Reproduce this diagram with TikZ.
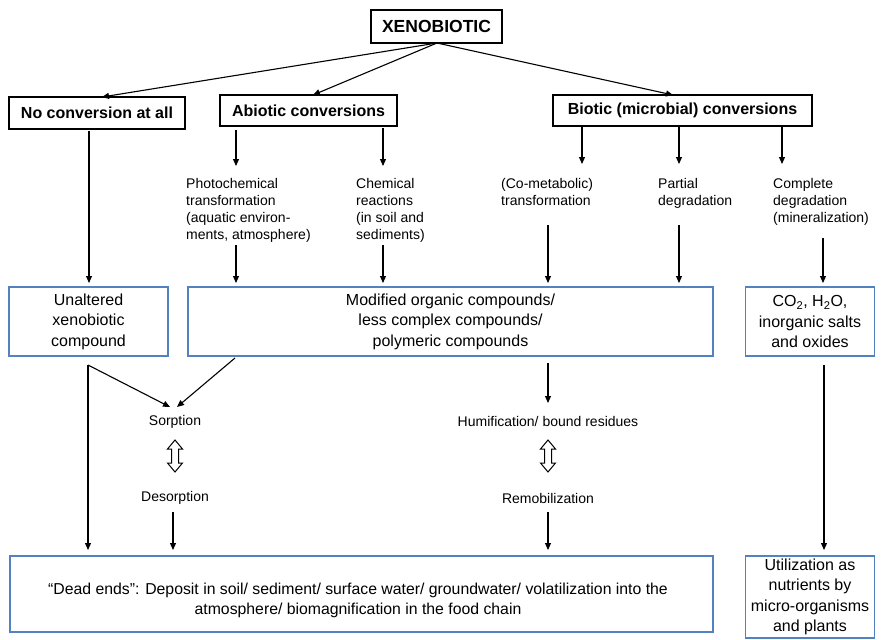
\documentclass[tikz,border=0pt]{standalone}
\usepackage{fontspec}
\setmainfont{Liberation Sans}
\usetikzlibrary{arrows.meta}
\definecolor{boxblue}{RGB}{84,130,190}
\begin{document}
\begin{tikzpicture}[x=1pt,y=-1pt,
  blackbox/.style={draw=black,line width=1.5pt,inner sep=0pt,font=\bfseries\fontsize{16}{19}\selectfont},
  bluebox/.style={draw=boxblue,line width=1.3pt,inner sep=0pt,align=center,font=\fontsize{16}{20.5}\selectfont},
  lbl/.style={inner sep=0pt,align=left,anchor=north west,font=\fontsize{14}{17}\selectfont},
  clbl/.style={inner sep=0pt,font=\fontsize{14}{17}\selectfont},
  arr/.style={-{Triangle[length=7pt,width=6pt]},line width=1.1pt},
  dblarr/.pic={\draw[fill=white,line width=1pt,line join=miter]
     (0,-16) -- (7.5,-7) -- (3.5,-7) -- (3.5,7) -- (7.5,7) -- (0,16) -- (-7.5,7) -- (-3.5,7) -- (-3.5,-7) -- (-7.5,-7) -- cycle;}
]
\useasboundingbox (0,0) rectangle (884,640);
\fill[white] (0,0) rectangle (884,640);

% top boxes
\node[blackbox,minimum width=131pt,minimum height=33pt,font=\bfseries\fontsize{17.5}{20}\selectfont] (x) at (436.5,26.5) {XENOBIOTIC};
\node[blackbox,minimum width=176pt,minimum height=32pt] (nc) at (97,113) {No conversion at all};
\node[blackbox,minimum width=177pt,minimum height=31pt] (ab) at (308.5,110.5) {Abiotic conversions};
\node[blackbox,minimum width=259pt,minimum height=31pt] (bi) at (682.5,110.5) {Biotic (microbial) conversions};

\coordinate (xs) at (437,43);
\draw[arr] (xs) -- (102,97);
\draw[arr] (xs) -- (313,95);
\draw[arr] (xs) -- (673,95);

% labels
\node[lbl] (ph) at (186,178) {Photochemical\\transformation\\(aquatic environ-\\ments, atmosphere)};
\node[lbl] (ch) at (356,178) {Chemical\\reactions\\(in soil and\\sediments)};
\node[lbl] (co) at (501,178) {(Co-metabolic)\\transformation};
\node[lbl] (pa) at (658,178) {Partial\\degradation};
\node[lbl] (cd) at (773,178) {Complete\\degradation\\(mineralization)};

\draw[arr] (236,130) -- (236,166);
\draw[arr] (383,128) -- (383,166);
\draw[arr] (582,127) -- (582,164);
\draw[arr] (679,127) -- (679,164);
\draw[arr] (782,127) -- (782,164);

% second row boxes
\node[bluebox,minimum width=159pt,minimum height=69pt] (un) at (88.5,321.5) {Unaltered\\xenobiotic\\compound};
\node[bluebox,minimum width=525pt,minimum height=69pt] (mo) at (450.5,321.5) {Modified organic compounds/\\less complex compounds/\\polymeric compounds};
\node[bluebox,minimum width=129pt,minimum height=69pt] (cx) at (810,321.5) {CO\textsubscript{2}, H\textsubscript{2}O,\\inorganic salts\\and oxides};

\draw[arr] (89,131) -- (89,283);
\draw[arr] (236,245) -- (236,283);
\draw[arr] (383,245) -- (383,283);
\draw[arr] (548,225) -- (548,283);
\draw[arr] (679,225) -- (679,283);
\draw[arr] (823,238) -- (823,283);

% lower section
\node[clbl] (so) at (175,422) {Sorption};
\pic at (175,456) {dblarr};
\node[clbl] (de) at (175,498) {Desorption};
\node[clbl] (hu) at (548,421) {Humification/ bound residues};
\pic at (548,456) {dblarr};
\node[clbl] (re) at (548,498) {Remobilization};

\draw[arr] (88,365) -- (170,407);
\draw[arr] (235,358) -- (177,407);
\draw[arr] (548,363) -- (548,403);

% bottom boxes
\node[draw=boxblue,line width=1.3pt,minimum width=703pt,minimum height=76pt,inner sep=0pt] (dead) at (361.5,594) {};
\node[inner sep=0pt,align=center,font=\fontsize{15.8}{20}\selectfont] (deadt) at (358,600) {“Dead ends”: Deposit in soil/ sediment/ surface water/ groundwater/ volatilization into the\\atmosphere/ biomagnification in the food chain};
\node[bluebox,minimum width=129pt,minimum height=82pt] (ut) at (810,597) {Utilization as\\nutrients by\\micro-organisms\\and plants};

\draw[arr] (88,365) -- (88,550);
\draw[arr] (173,512) -- (173,550);
\draw[arr] (548,512) -- (548,550);
\draw[arr] (824,365) -- (824,550);
\end{tikzpicture}
\end{document}
